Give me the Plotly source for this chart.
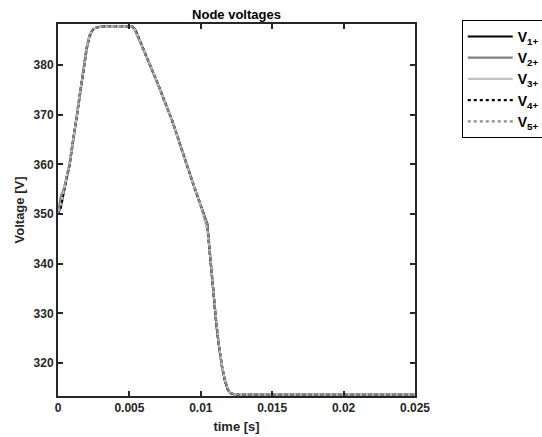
import plotly.graph_objects as go

# ---- data ----
time_s = [0, 0.0002, 0.0004, 0.0008, 0.0012, 0.0016, 0.0020, 0.0022, 0.0024, 0.0026,
          0.0030, 0.0040, 0.0050, 0.0052, 0.0054, 0.0057, 0.0060, 0.0065, 0.0070, 0.0080,
          0.0086, 0.0090, 0.0095, 0.0100, 0.01045, 0.0107, 0.0109, 0.0111, 0.0113, 0.0115,
          0.0117, 0.0119, 0.0121, 0.0124, 0.0130, 0.0150, 0.0200, 0.0250]

v1 = [350.0, 351.5, 354.5, 359.8, 367.5, 375.3, 383.2, 385.8, 387.0, 387.5,
      387.8, 387.9, 387.9, 387.8, 387.2, 385.2, 383.0, 379.8, 376.2, 368.8,
      363.5, 360.0, 355.8, 351.7, 348.0, 340.0, 333.5, 327.5, 322.8, 319.0,
      316.3, 314.6, 313.9, 313.6, 313.6, 313.6, 313.6, 313.6]
v2 = [350.0, 353.6, 355.0, 360.0, 367.6, 375.4, 383.4, 386.0, 387.1, 387.5,
      387.8, 387.9, 387.9, 387.8, 387.0, 385.1, 382.9, 379.7, 376.1, 368.8,
      363.5, 360.0, 355.8, 351.7, 348.0, 340.2, 333.6, 327.6, 322.9, 319.1,
      316.4, 314.7, 313.9, 313.6, 313.6, 313.6, 313.6, 313.6]
v3 = [350.0, 352.0, 354.7, 359.9, 367.5, 375.3, 383.3, 385.9, 387.0, 387.5,
      387.8, 387.9, 387.9, 387.8, 387.1, 385.2, 383.0, 379.8, 376.2, 368.8,
      363.5, 360.0, 355.8, 351.6, 346.8, 340.8, 333.8, 327.8, 323.0, 319.2,
      316.5, 314.8, 314.0, 313.6, 313.6, 313.6, 313.6, 313.6]
v4 = [350.0, 351.4, 354.4, 359.8, 367.5, 375.3, 383.2, 385.8, 387.0, 387.5,
      387.8, 387.9, 387.9, 387.8, 387.2, 385.2, 383.0, 379.8, 376.2, 368.8,
      363.5, 360.0, 355.8, 351.7, 348.0, 340.0, 333.5, 327.5, 322.8, 319.0,
      316.3, 314.6, 313.9, 313.6, 313.6, 313.6, 313.6, 313.6]
v5 = [350.0, 353.5, 354.9, 360.0, 367.6, 375.4, 383.4, 386.0, 387.1, 387.5,
      387.8, 387.9, 387.9, 387.8, 387.0, 385.1, 382.9, 379.7, 376.1, 368.8,
      363.5, 360.0, 355.8, 351.7, 348.0, 340.2, 333.6, 327.6, 322.9, 319.1,
      316.4, 314.7, 313.9, 313.6, 313.6, 313.6, 313.6, 313.6]

series_names = ["V<sub>1+</sub>", "V<sub>2+</sub>", "V<sub>3+</sub>", "V<sub>4+</sub>", "V<sub>5+</sub>"]
series_values = [v1, v2, v3, v4, v5]
series_colors = ["#000000", "#808080", "#c0c0c0", "#000000", "#8c8c8c"]
series_dash = ["solid", "solid", "solid", "dot", "dot"]

x_ticks = [0, 0.005, 0.01, 0.015, 0.02, 0.025]
x_tick_labels = ["0", "0.005", "0.01", "0.015", "0.02", "0.025"]
y_ticks = [320, 330, 340, 350, 360, 370, 380]

FONT = "Liberation Sans, Arial, sans-serif"
AXC = "#262626"

fig = go.Figure()
for name, vals, col, dash in zip(series_names, series_values, series_colors, series_dash):
    fig.add_trace(go.Scatter(x=time_s, y=vals, mode="lines", name=name,
                             line=dict(color=col, width=2.2, dash=dash)))

axis_common = dict(showline=True, linecolor=AXC, linewidth=2, mirror="ticks",
                   ticks="inside", ticklen=5, tickwidth=2, tickcolor=AXC,
                   showgrid=False, zeroline=False,
                   tickfont=dict(family=FONT, size=12, color=AXC, weight="bold"))

fig.update_layout(
    width=542, height=437,
    margin=dict(l=58, r=127, t=24, b=41, autoexpand=False),
    paper_bgcolor="white", plot_bgcolor="white",
    title=dict(text="<b>Node voltages</b>", x=(58 + 415) / 2 / 542, xanchor="center",
               y=1 - 14 / 437, yanchor="middle",
               font=dict(family=FONT, size=13, color="#000000")),
    xaxis=dict(range=[0, 0.025], tickvals=x_ticks, ticktext=x_tick_labels,
               title=dict(text="<b>time [s]</b>", standoff=7,
                          font=dict(family=FONT, size=13, color=AXC)),
               **axis_common),
    yaxis=dict(range=[313.35, 388.3], tickvals=y_ticks,
               title=dict(text="<b>Voltage [V]</b>", standoff=6,
                          font=dict(family=FONT, size=13, color=AXC)),
               **axis_common),
    legend=dict(x=1.131, y=1.011, xanchor="left", yanchor="top",
                bordercolor="#000000", borderwidth=1, bgcolor="white",
                itemwidth=45, tracegroupgap=0,
                font=dict(family=FONT, size=14, color="#000000", weight="bold")),
    showlegend=True,
)

fig.write_html("out.html")
